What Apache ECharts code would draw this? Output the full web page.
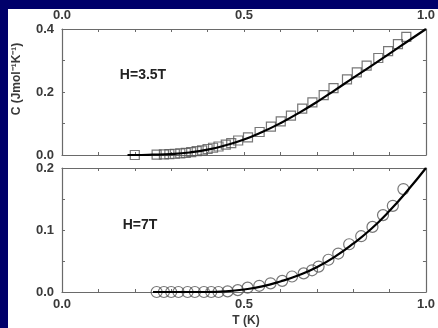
<!DOCTYPE html>
<html>
<head>
<meta charset="utf-8">
<script src="https://cdn.jsdelivr.net/npm/echarts@6/dist/echarts.min.js"></script>
<style>
  html, body { margin: 0; padding: 0; background: #fff; }
  #chart { width: 438px; height: 328px; }
</style>
</head>
<body>
<div id="chart"></div>
<script>
// Specific heat C(T) at two fields: measured points and fitted curves
const tSquares = [0.20, 0.26, 0.28, 0.295, 0.31, 0.325, 0.34, 0.355, 0.37, 0.385, 0.40, 0.415, 0.43, 0.45, 0.465,
                  0.484, 0.511, 0.543, 0.574, 0.601, 0.629, 0.66, 0.688, 0.719, 0.746, 0.783, 0.81, 0.837, 0.869, 0.896, 0.923, 0.946];
const cSquares = [0.000, 0.001, 0.002, 0.003, 0.004, 0.005, 0.007, 0.009, 0.012, 0.015, 0.019, 0.023, 0.027, 0.033, 0.038,
                  0.046, 0.056, 0.073, 0.090, 0.107, 0.125, 0.147, 0.167, 0.190, 0.212, 0.240, 0.262, 0.284, 0.308, 0.330, 0.352, 0.375];

const tFitTop = [0.18, 0.20, 0.25, 0.30, 0.35, 0.40, 0.45, 0.50, 0.55, 0.60, 0.65, 0.70, 0.75, 0.80, 0.85, 0.90, 0.95, 1.00];
const cFitTop = [0.000, 0.000, 0.001, 0.003, 0.008, 0.017, 0.031, 0.049, 0.073, 0.101, 0.133, 0.168, 0.206, 0.245, 0.283, 0.322, 0.361, 0.400];

const tCircles = [0.26, 0.28, 0.30, 0.32, 0.345, 0.365, 0.39, 0.41, 0.43, 0.455, 0.483, 0.51, 0.542, 0.573, 0.605,
                  0.632, 0.664, 0.687, 0.705, 0.732, 0.759, 0.789, 0.822, 0.853, 0.882, 0.909, 0.938];
const cCircles = [0.000, 0.000, 0.000, 0.000, 0.000, 0.000, 0.000, 0.000, 0.000, 0.001, 0.003, 0.007, 0.010, 0.014, 0.018,
                  0.025, 0.030, 0.035, 0.041, 0.052, 0.062, 0.077, 0.090, 0.105, 0.124, 0.139, 0.166];

const tFitBottom = [0.25, 0.30, 0.35, 0.40, 0.45, 0.50, 0.55, 0.60, 0.65, 0.70, 0.75, 0.80, 0.85, 0.90, 0.95, 1.00];
const cFitBottom = [0.000, 0.000, 0.000, 0.000, 0.001, 0.004, 0.009, 0.017, 0.027, 0.040, 0.057, 0.078, 0.102, 0.131, 0.164, 0.200];

const xTickLabels = ['0.0', '0.5', '1.0'];
const topYTickLabels = ['0.0', '0.2', '0.4'];
const bottomYTickLabels = ['0.0', '0.1', '0.2'];

const pairs = (xs, ys) => xs.map((x, i) => [x, ys[i]]);
const near = (v, list) => list.find(s => Math.abs(parseFloat(s) - v) < 1e-6) || '';

const FONT = 'Liberation Sans, Arial, sans-serif';
const frame = '#6a6a6a';
const labelColor = '#3a3a3a';

function xAxis(gridIndex, position, showLabels) {
  return {
    type: 'value', gridIndex, position, min: 0, max: 1, interval: 0.1,
    axisLine: { show: true, onZero: false, lineStyle: { color: frame, width: 1.2 } },
    axisTick: { show: true, inside: true, length: 3, lineStyle: { color: frame } },
    splitLine: { show: false },
    axisLabel: {
      show: showLabels, margin: position === 'top' ? 7 : 6, color: labelColor,
      fontFamily: FONT, fontSize: 13, fontWeight: 'bold',
      formatter: v => near(v, xTickLabels)
    }
  };
}

function yAxis(gridIndex, position, max, interval, labels) {
  return {
    type: 'value', gridIndex, position, min: 0, max, interval,
    axisLine: { show: true, onZero: false, lineStyle: { color: frame, width: 1.2 } },
    axisTick: { show: true, inside: true, length: 3, lineStyle: { color: frame } },
    splitLine: { show: false },
    axisLabel: {
      show: !!labels, margin: 8, color: labelColor,
      fontFamily: FONT, fontSize: 13, fontWeight: 'bold',
      formatter: v => labels ? near(v, labels) : ''
    }
  };
}

const chart = echarts.init(document.getElementById('chart'), null, { renderer: 'canvas' });

chart.setOption({
  backgroundColor: '#ffffff',
  animation: false,
  grid: [
    { left: 62, top: 29, width: 368, height: 126 },
    { left: 62, top: 168, width: 368, height: 124 }
  ],
  xAxis: [
    xAxis(0, 'bottom', false),
    xAxis(0, 'top', true),
    xAxis(1, 'bottom', true),
    xAxis(1, 'top', false)
  ],
  yAxis: [
    yAxis(0, 'left', 0.4, 0.1, topYTickLabels),
    yAxis(0, 'right', 0.4, 0.1, null),
    yAxis(1, 'left', 0.2, 0.05, bottomYTickLabels),
    yAxis(1, 'right', 0.2, 0.05, null)
  ],
  series: [
    {
      type: 'scatter', xAxisIndex: 0, yAxisIndex: 0,
      data: pairs(tSquares, cSquares),
      symbol: 'rect', symbolSize: 9,
      itemStyle: { color: 'rgba(255,255,255,0)', borderColor: '#555', borderWidth: 1.2 },
      z: 2
    },
    {
      type: 'line', xAxisIndex: 0, yAxisIndex: 0,
      data: pairs(tFitTop, cFitTop), smooth: true, showSymbol: false,
      lineStyle: { color: '#000', width: 2.2 }, z: 3
    },
    {
      type: 'scatter', xAxisIndex: 2, yAxisIndex: 2,
      data: pairs(tCircles, cCircles),
      symbol: 'circle', symbolSize: 11,
      itemStyle: { color: 'rgba(255,255,255,0)', borderColor: '#555', borderWidth: 1.2 },
      z: 2
    },
    {
      type: 'line', xAxisIndex: 2, yAxisIndex: 2,
      data: pairs(tFitBottom, cFitBottom), smooth: true, showSymbol: false,
      lineStyle: { color: '#000', width: 2.2 }, z: 3
    }
  ],
  graphic: [
    { type: 'rect', left: 0, top: 0, shape: { width: 8, height: 328 }, style: { fill: '#00006a' }, z: 100 },
    { type: 'rect', left: 0, top: 0, shape: { width: 438, height: 9 }, style: { fill: '#00006a' }, z: 100 },
    {
      type: 'text', x: 17, y: 79, rotation: Math.PI / 2,
      style: { text: 'C (Jmol⁻¹K⁻¹)', fill: labelColor, font: 'bold 12px ' + FONT, align: 'center', verticalAlign: 'middle' }
    },
    {
      type: 'text', x: 143, y: 75,
      style: { text: 'H=3.5T', fill: '#222', font: 'bold 14px ' + FONT, align: 'center', verticalAlign: 'middle' }
    },
    {
      type: 'text', x: 140, y: 225,
      style: { text: 'H=7T', fill: '#222', font: 'bold 14px ' + FONT, align: 'center', verticalAlign: 'middle' }
    },
    {
      type: 'text', x: 246, y: 321,
      style: { text: 'T (K)', fill: labelColor, font: 'bold 12px ' + FONT, align: 'center', verticalAlign: 'middle' }
    }
  ]
});
</script>
</body>
</html>
